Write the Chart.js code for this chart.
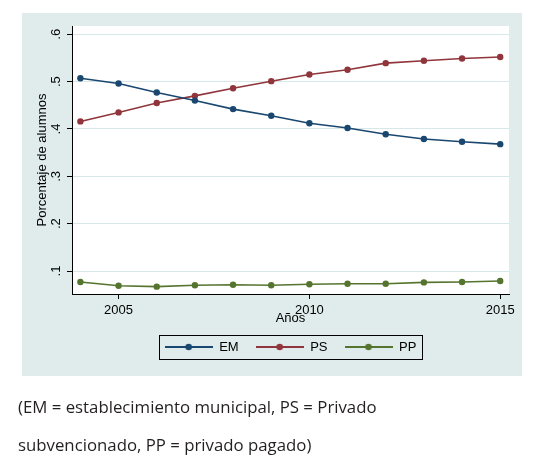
<!DOCTYPE html>
<html><head><meta charset="utf-8">
<script src="https://cdn.jsdelivr.net/npm/chart.js@4.4.1/dist/chart.umd.min.js"></script>
<style>
html,body{margin:0;padding:0;background:#fff;}
#wrap{position:relative;width:558px;height:460px;overflow:hidden;}
canvas{position:absolute;left:0;top:0;}
#cap{position:absolute;left:18px;top:388px;font-family:'Open Sans',sans-serif;font-size:16.8px;line-height:38px;color:#231f20;white-space:nowrap;}
</style></head><body>
<div id="wrap"><canvas id="c" width="558" height="460"></canvas>
<div id="cap">(EM = establecimiento municipal, PS = Privado<br>subvencionado, PP = privado pagado)</div></div>
<script>
const years = [2004, 2005, 2006, 2007, 2008, 2009, 2010, 2011, 2012, 2013, 2014, 2015];
const emValues = [0.507, 0.496, 0.477, 0.460, 0.442, 0.428, 0.412, 0.402, 0.389, 0.379, 0.373, 0.368];
const psValues = [0.416, 0.435, 0.455, 0.470, 0.486, 0.501, 0.515, 0.525, 0.539, 0.544, 0.549, 0.552];
const ppValues = [0.077, 0.069, 0.067, 0.070, 0.071, 0.070, 0.072, 0.073, 0.073, 0.076, 0.077, 0.079];
const seriesNames = ['EM', 'PS', 'PP'];
const seriesColors = ['#1a476f', '#90353b', '#55752f'];
const xTickValues = [2005, 2010, 2015];
const yTickValues = [0.1, 0.2, 0.3, 0.4, 0.5, 0.6];
const yTickLabels = ['.1', '.2', '.3', '.4', '.5', '.6'];
const xAxisTitle = 'Años';
const yAxisTitle = 'Porcentaje de alumnos';

Chart.defaults.font.family = "'Liberation Sans', Arial, sans-serif";
Chart.defaults.font.size = 13;
Chart.defaults.color = '#000';

function legendSymbol(color) {
  const c = document.createElement('canvas');
  c.width = 48; c.height = 10;
  const g = c.getContext('2d');
  g.strokeStyle = color; g.lineWidth = 2;
  g.beginPath(); g.moveTo(0, 5); g.lineTo(48, 5); g.stroke();
  g.fillStyle = color; g.beginPath(); g.arc(24, 5, 3.3, 0, Math.PI * 2); g.fill();
  return c;
}
const symbols = seriesColors.map(legendSymbol);

const allSeries = [emValues, psValues, ppValues];
const datasets = allSeries.map((vals, i) => ({
  label: seriesNames[i],
  data: years.map((yr, j) => ({x: yr, y: vals[j]})),
  borderColor: seriesColors[i],
  backgroundColor: seriesColors[i],
  pointBackgroundColor: seriesColors[i],
  pointBorderColor: seriesColors[i],
  borderWidth: 1.6,
  pointRadius: 3.2,
  pointBorderWidth: 0,
  tension: 0
}));

const bgPlugin = {
  id: 'bg',
  beforeDraw(chart) {
    const {ctx, chartArea: a} = chart;
    ctx.save();
    ctx.fillStyle = '#fff';
    ctx.fillRect(0, 0, chart.width, chart.height);
    ctx.fillStyle = '#dfeceb';
    ctx.fillRect(22, 13, 500, 363);
    ctx.fillStyle = '#fff';
    ctx.fillRect(a.left, a.top, a.right - a.left, a.bottom - a.top);
    ctx.restore();
  },
  afterDraw(chart) {
    const hb = chart.legend.legendHitBoxes;
    if (!hb || !hb.length) return;
    const ctx = chart.ctx;
    const l = Math.round(hb[0].left - 5.5) + 0.5;
    const last = hb[hb.length - 1];
    const r = Math.round(last.left + last.width + 5.5) + 0.5;
    const t = Math.round(hb[0].top - 5.5) + 0.5;
    const b = Math.round(hb[0].top + hb[0].height + 5.5) + 0.5;
    ctx.save();
    ctx.strokeStyle = '#000'; ctx.lineWidth = 1;
    ctx.strokeRect(l, t, r - l, b - t);
    ctx.restore();
  }
};

new Chart(document.getElementById('c'), {
  type: 'line',
  data: {datasets},
  plugins: [bgPlugin],
  options: {
    responsive: false,
    animation: false,
    layout: {padding: {left: 22, top: 26, right: 49, bottom: 96.5}},
    plugins: {
      tooltip: {enabled: false},
      legend: {
        position: 'bottom',
        fullSize: false,
        labels: {
          usePointStyle: true,
          pointStyleWidth: 48,
          padding: 17,
          color: '#000',
          font: {size: 13, lineHeight: 1},
          generateLabels(chart) {
            const items = Chart.defaults.plugins.legend.labels.generateLabels(chart);
            items.forEach((it, i) => { it.pointStyle = symbols[i]; });
            return items;
          }
        }
      }
    },
    scales: {
      x: {
        type: 'linear',
        min: 2003.78,
        max: 2015.23,
        afterBuildTicks(s) { s.ticks = xTickValues.map(v => ({value: v})); },
        afterFit(s) { s.height = 29.5; },
        ticks: {padding: 4, color: '#000', font: {size: 13}, callback: v => String(v)},
        grid: {drawOnChartArea: false, drawTicks: true, tickLength: 5, tickColor: '#000'},
        border: {display: true, color: '#000', width: 1},
        title: {display: true, text: xAxisTitle, color: '#000', font: {size: 13}, padding: {top: 0, bottom: -3}}
      },
      y: {
        type: 'linear',
        min: 0.0515,
        max: 0.6175,
        afterBuildTicks(s) { s.ticks = yTickValues.map(v => ({value: v})); },
        afterFit(s) { s.width = 50; },
        ticks: {
          padding: 5, color: '#000', font: {size: 13},
          minRotation: 90, maxRotation: 90, crossAlign: 'center',
          callback: (v) => { const k = yTickValues.findIndex(t => Math.abs(t - v) < 1e-9); return k >= 0 ? yTickLabels[k] : ''; }
        },
        grid: {color: '#d8e8e8', lineWidth: 1, drawTicks: true, tickLength: 5, tickColor: '#000'},
        border: {display: true, color: '#000', width: 1},
        title: {display: true, text: yAxisTitle, color: '#000', font: {size: 13}, padding: {top: 12.5, bottom: 0}}
      }
    }
  }
});
</script>
</body></html>
